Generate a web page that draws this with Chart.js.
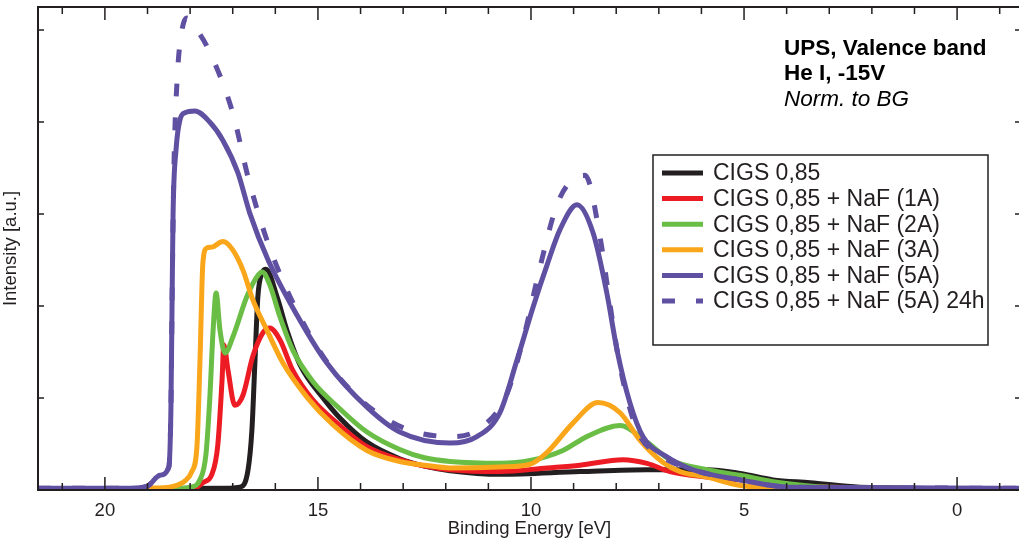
<!DOCTYPE html>
<html>
<head>
<meta charset="utf-8">
<script src="https://cdn.jsdelivr.net/npm/chart.js@4.4.0/dist/chart.umd.min.js"></script>
<style>
  html, body { margin: 0; padding: 0; background: #fff; overflow: hidden; }
  #wrap { width: 1025px; height: 546px; }
</style>
</head>
<body>
<div id="wrap"><canvas id="chart" width="1025" height="546"></canvas></div>
<script>
// binding energy (eV) and intensity (a.u.)
const blackE = [21.57, 17.07, 16.83, 16.64, 16.55, 16.48, 16.41, 16.31, 16.22, 15.96, 15.73, 15.42, 14.88, 14.48, 13.85, 13.08, 12.50, 11.90, 10.73, 8.85, 7.28, 5.87, 5.09, 4.32, 3.45, 2.28, -1.5];
const blackI = [0.01, 0.02, 0.03, 0.22, 0.65, 1.38, 2.10, 2.36, 2.40, 2.10, 1.74, 1.36, 1.00, 0.78, 0.52, 0.34, 0.26, 0.21, 0.17, 0.20, 0.22, 0.22, 0.18, 0.11, 0.08, 0.03, 0.01];

const redE = [21.57, 18.24, 17.89, 17.70, 17.49, 17.35, 17.25, 17.21, 17.11, 16.95, 16.76, 16.53, 16.29, 16.13, 15.89, 15.59, 15.12, 14.48, 13.85, 13.08, 12.50, 11.90, 10.73, 9.62, 8.85, 7.84, 7.28, 6.74, 5.87, 5.09, 3.69, -1.5];
const redI = [0.01, 0.01, 0.02, 0.08, 0.17, 0.49, 1.20, 1.58, 1.30, 0.92, 1.03, 1.45, 1.71, 1.76, 1.63, 1.30, 0.98, 0.70, 0.47, 0.33, 0.26, 0.22, 0.20, 0.24, 0.27, 0.33, 0.29, 0.20, 0.14, 0.11, 0.04, 0.01];

const greenE = [21.57, 18.47, 18.00, 17.77, 17.63, 17.54, 17.46, 17.39, 17.30, 17.18, 17.00, 16.67, 16.43, 16.31, 16.13, 15.89, 15.59, 15.12, 14.48, 13.85, 13.08, 12.50, 11.90, 10.73, 10.02, 9.25, 8.69, 7.91, 7.28, 6.74, 5.87, 5.09, 4.32, 2.98, -1.5];
const greenI = [0.01, 0.01, 0.03, 0.11, 0.38, 0.98, 1.74, 2.14, 1.74, 1.49, 1.66, 2.10, 2.32, 2.37, 2.23, 1.88, 1.52, 1.18, 0.88, 0.63, 0.44, 0.35, 0.31, 0.29, 0.32, 0.43, 0.58, 0.70, 0.52, 0.33, 0.22, 0.16, 0.09, 0.03, 0.01];

const orangeE = [21.57, 18.94, 18.40, 18.12, 17.96, 17.84, 17.77, 17.70, 17.61, 17.49, 17.23, 17.00, 16.76, 16.53, 16.20, 15.82, 15.26, 14.65, 13.85, 13.08, 12.50, 11.90, 10.73, 10.02, 9.62, 9.01, 8.43, 7.91, 7.44, 6.90, 6.50, 5.87, 5.09, 3.69, -1.5];
const orangeI = [0.01, 0.02, 0.04, 0.10, 0.20, 0.47, 1.38, 2.47, 2.63, 2.64, 2.70, 2.61, 2.39, 2.07, 1.74, 1.38, 1.01, 0.71, 0.43, 0.31, 0.27, 0.24, 0.25, 0.28, 0.41, 0.73, 0.95, 0.84, 0.54, 0.30, 0.20, 0.14, 0.05, 0.02, 0.01];

const purpleE = [21.57, 19.41, 19.01, 18.71, 18.50, 18.45, 18.42, 18.40, 18.33, 18.24, 18.12, 17.89, 17.54, 17.23, 16.88, 16.60, 16.17, 15.49, 14.79, 13.85, 13.08, 11.90, 11.27, 10.73, 10.33, 9.95, 9.62, 9.32, 8.92, 8.54, 8.22, 7.98, 7.68, 7.37, 6.81, 6.20, 5.09, 3.92, -1.5];
const purpleI = [0.02, 0.02, 0.04, 0.16, 0.25, 0.90, 2.20, 3.00, 3.70, 4.02, 4.10, 4.12, 4.00, 3.80, 3.45, 3.01, 2.50, 1.90, 1.38, 0.90, 0.63, 0.51, 0.58, 0.84, 1.41, 1.99, 2.45, 2.83, 3.10, 2.79, 2.14, 1.52, 0.95, 0.58, 0.36, 0.22, 0.11, 0.03, 0.02];

const purple24E = [21.57, 19.41, 19.01, 18.71, 18.50, 18.45, 18.42, 18.38, 18.30, 18.19, 18.08, 17.84, 17.56, 17.00, 16.64, 16.20, 15.59, 14.72, 13.36, 11.85, 11.20, 10.56, 10.14, 9.79, 9.39, 9.04, 8.73, 8.38, 8.15, 7.91, 7.51, 6.97, 6.20, 5.09, 3.92, -1.5];
const purple24I = [0.02, 0.02, 0.04, 0.16, 0.25, 0.90, 2.20, 3.50, 4.50, 5.00, 5.13, 5.00, 4.78, 4.10, 3.40, 2.72, 2.04, 1.35, 0.76, 0.58, 0.67, 1.05, 1.72, 2.42, 3.10, 3.37, 3.42, 2.75, 2.03, 1.34, 0.65, 0.38, 0.22, 0.11, 0.03, 0.02];

const labels = ["CIGS 0,85", "CIGS 0,85 + NaF (1A)", "CIGS 0,85 + NaF (2A)", "CIGS 0,85 + NaF (3A)", "CIGS 0,85 + NaF (5A)", "CIGS 0,85 + NaF (5A) 24h"];
const xTickLabels = [20, 15, 10, 5, 0];
const yTicks = [1, 2, 3, 4, 5];
const noteLines = ["UPS, Valence band", "He I, -15V", "Norm. to BG"];

const FONT = '"Liberation Sans", Arial, sans-serif';
const INK = "#231f20";
Chart.defaults.font.family = FONT;
Chart.defaults.color = INK;

const pts = (es, is) => es.map((e, i) => ({ x: e, y: is[i] }));

const series = [
  { e: blackE, i: blackI, color: "#231f20" },
  { e: redE, i: redI, color: "#ed1c24" },
  { e: greenE, i: greenI, color: "#6abd45" },
  { e: orangeE, i: orangeI, color: "#faa61a" },
  { e: purpleE, i: purpleI, color: "#6050a2" },
  { e: purple24E, i: purple24I, color: "#6050a2", dash: [13, 21] }
];

const datasets = series.map((s, k) => ({
  label: labels[k],
  data: pts(s.e, s.i),
  borderColor: s.color,
  borderWidth: 5,
  borderDash: s.dash || [],
  pointRadius: 0,
  cubicInterpolationMode: "monotone",
  fill: false,
  order: series.length - k
}));

// frame + inward ticks, like the original plot
const frame = {
  id: "frame",
  afterDatasetsDraw(chart) {
    const { ctx, chartArea: a, scales } = chart;
    const x = scales.x, y = scales.y;
    ctx.save();
    ctx.strokeStyle = INK;
    ctx.lineWidth = 2;
    ctx.strokeRect(a.left, a.top, a.right - a.left, a.bottom - a.top);
    ctx.lineWidth = 1.5;
    ctx.beginPath();
    for (let e = Math.ceil(x.min); e <= Math.floor(x.max); e++) {
      const px = x.getPixelForValue(e);
      const len = e % 5 === 0 ? 13 : 7;
      ctx.moveTo(px, a.bottom); ctx.lineTo(px, a.bottom - len);
      ctx.moveTo(px, a.top); ctx.lineTo(px, a.top + len);
    }
    yTicks.forEach(v => {
      const py = y.getPixelForValue(v);
      ctx.moveTo(a.left, py); ctx.lineTo(a.left + 6, py);
      ctx.moveTo(a.right, py); ctx.lineTo(a.right - 6, py);
    });
    ctx.stroke();
    ctx.restore();
  }
};

// boxed legend inside the plot, plus the note at top right
const boxLegend = {
  id: "boxLegend",
  afterDraw(chart) {
    const ctx = chart.ctx;
    ctx.save();
    ctx.fillStyle = "#fff";
    ctx.fillRect(653, 155, 335, 190);
    ctx.strokeStyle = INK;
    ctx.lineWidth = 1.5;
    ctx.strokeRect(653, 155, 335, 190);
    ctx.font = "23px " + FONT;
    ctx.textBaseline = "middle";
    chart.data.datasets.forEach((ds, k) => {
      const yy = 173 + k * 25.6;
      ctx.strokeStyle = ds.borderColor;
      ctx.lineWidth = 5;
      ctx.setLineDash(ds.borderDash);
      ctx.beginPath();
      ctx.moveTo(662, yy); ctx.lineTo(703, yy);
      ctx.stroke();
      ctx.setLineDash([]);
      ctx.fillStyle = INK;
      ctx.fillText(ds.label, 713, yy + 1);
    });
    ctx.fillStyle = "#000";
    ctx.font = "bold 22.5px " + FONT;
    ctx.fillText(noteLines[0], 784, 49);
    ctx.fillText(noteLines[1], 784, 74);
    ctx.font = "italic 22.5px " + FONT;
    ctx.fillText(noteLines[2], 784, 100);
    ctx.restore();
  }
};

new Chart(document.getElementById("chart"), {
  type: "line",
  data: { datasets },
  options: {
    responsive: false,
    animation: false,
    layout: { padding: { top: 7, right: 4, left: 0, bottom: 0 } },
    plugins: { legend: { display: false }, tooltip: { enabled: false } },
    scales: {
      x: {
        type: "linear",
        reverse: true,
        min: -1.5,
        max: 21.57,
        grid: { display: false, drawTicks: false },
        border: { display: false },
        afterFit: s => { s.height = 56; },
        afterBuildTicks: s => { s.ticks = xTickLabels.map(v => ({ value: v })); },
        ticks: { font: { size: 18.5 }, padding: 10, maxRotation: 0, color: INK },
        title: { display: true, text: "Binding Energy [eV]", font: { size: 18.5 }, padding: { top: 0, bottom: 6 }, color: INK }
      },
      y: {
        min: 0,
        max: 5.25,
        grid: { display: false, drawTicks: false },
        border: { display: false },
        ticks: { display: false },
        afterFit: s => { s.width = 38; },
        title: { display: true, text: "Intensity [a.u.]", font: { size: 18.5 }, padding: { top: 0, bottom: 8 }, color: INK }
      }
    }
  },
  plugins: [frame, boxLegend]
});
</script>
</body>
</html>
